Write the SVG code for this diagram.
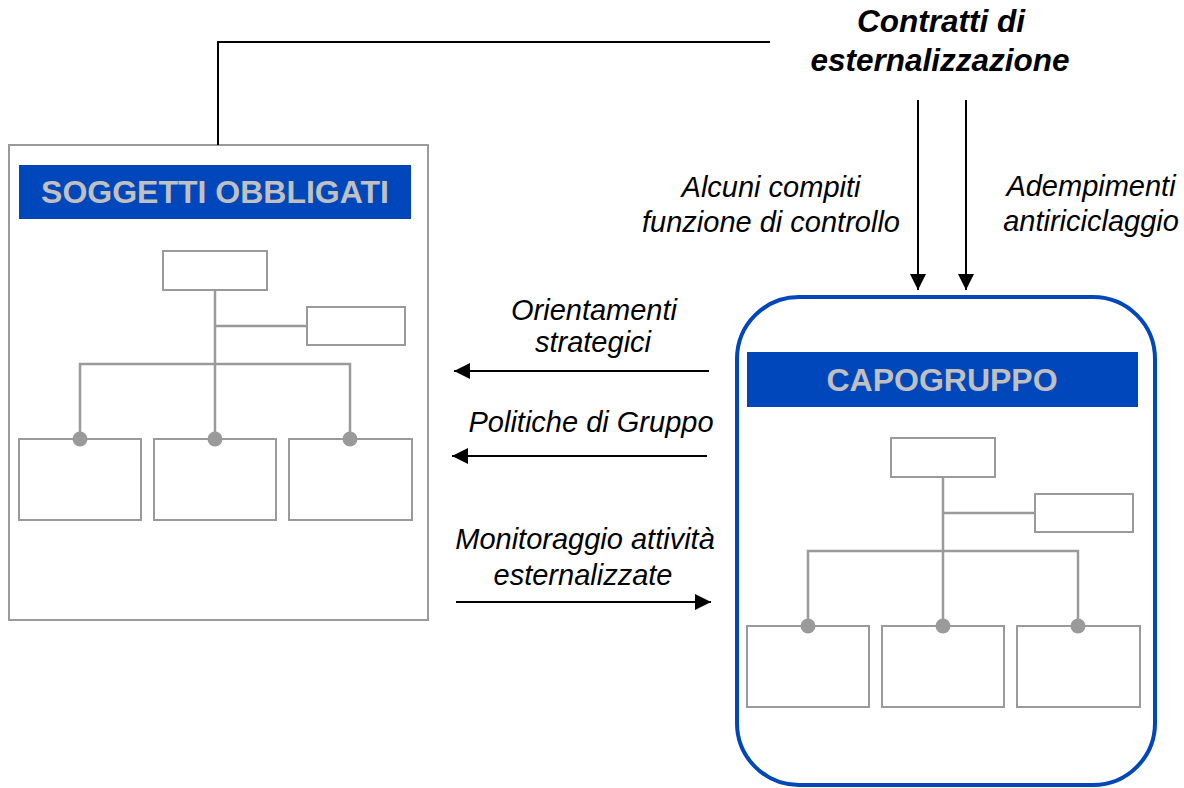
<svg xmlns="http://www.w3.org/2000/svg" width="1184" height="788" viewBox="0 0 1184 788">
<defs>
<style>
.lbl{font-family:"Liberation Sans",Arial,sans-serif;font-style:italic;font-size:29px;fill:#000;text-anchor:middle}
.ttl{font-family:"Liberation Sans",Arial,sans-serif;font-style:italic;font-weight:bold;font-size:31.5px;fill:#000;text-anchor:middle}
.hdr{font-family:"Liberation Sans",Arial,sans-serif;font-weight:bold;font-size:32px;fill:#C0C0C0;text-anchor:middle}
.hbar{fill:#0047BB}
.ob{fill:#fff;stroke:#9a9a9a;stroke-width:2}
.ol{fill:none;stroke:#9a9a9a;stroke-width:2.5}
.dot{fill:#9a9a9a}
.con{fill:none;stroke:#000;stroke-width:2}
</style>
<marker id="ah" markerUnits="userSpaceOnUse" markerWidth="16" markerHeight="18" viewBox="0 0 16 18" refX="16" refY="9" orient="auto">
<path d="M0,1 L16,9 L0,17 Z" fill="#000"/>
</marker>
<g id="org">
<rect class="ob" x="163" y="251" width="104" height="39"/>
<rect class="ob" x="307" y="307" width="98" height="38"/>
<path class="ol" d="M215,290 V364 M215,326 H307 M80,439 V364 H350 V439 M215,364 V439"/>
<rect class="ob" x="19" y="439" width="122" height="81"/>
<rect class="ob" x="154" y="439" width="122" height="81"/>
<rect class="ob" x="289" y="439" width="123" height="81"/>
<circle class="dot" cx="80" cy="439" r="7.5"/>
<circle class="dot" cx="215" cy="439" r="7.5"/>
<circle class="dot" cx="350" cy="439" r="7.5"/>
</g>
</defs>
<rect width="1184" height="788" fill="#fff"/>
<g id="soggetti">
<rect x="9" y="145" width="419" height="475" fill="#fff" stroke="#9a9a9a" stroke-width="2"/>
<rect class="hbar" x="19" y="165" width="392" height="54"/>
<text class="hdr" x="215" y="203">SOGGETTI OBBLIGATI</text>
<use href="#org"/>
</g>
<g id="capogruppo">
<rect x="737" y="297" width="418" height="488" rx="62" ry="62" fill="#fff" stroke="#0047BB" stroke-width="4"/>
<rect class="hbar" x="747" y="352" width="391" height="55"/>
<text class="hdr" x="942" y="391">CAPOGRUPPO</text>
<use href="#org" transform="translate(728,187)"/>
</g>
<g id="contratti">
<text class="ttl" x="941" y="32">Contratti di</text>
<text class="ttl" x="940" y="71">esternalizzazione</text>
</g>
<g id="connectors">
<path class="con" d="M218,145 V42 H770"/>
<line class="con" x1="918" y1="100" x2="918" y2="290" marker-end="url(#ah)"/>
<line class="con" x1="966" y1="100" x2="966" y2="290" marker-end="url(#ah)"/>
<line class="con" x1="709" y1="371" x2="454" y2="371" marker-end="url(#ah)"/>
<line class="con" x1="707" y1="456" x2="452" y2="456" marker-end="url(#ah)"/>
<line class="con" x1="456" y1="602" x2="711" y2="602" marker-end="url(#ah)"/>
</g>
<g id="labels">
<text class="lbl" x="771" y="197">Alcuni compiti</text>
<text class="lbl" x="771" y="232">funzione di controllo</text>
<text class="lbl" x="1091" y="196">Adempimenti</text>
<text class="lbl" x="1091" y="231">antiriciclaggio</text>
<text class="lbl" x="594" y="320">Orientamenti</text>
<text class="lbl" x="593" y="352">strategici</text>
<text class="lbl" x="591" y="432">Politiche di Gruppo</text>
<text class="lbl" x="585" y="549">Monitoraggio attività</text>
<text class="lbl" x="583" y="585">esternalizzate</text>
</g>
</svg>
